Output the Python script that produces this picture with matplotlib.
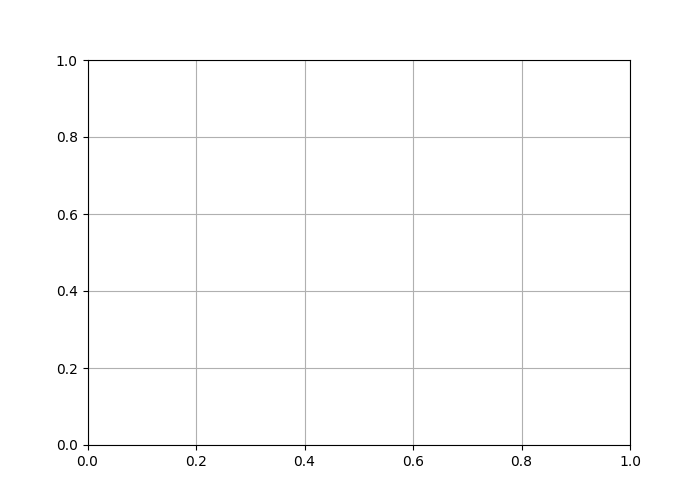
import matplotlib
matplotlib.use("Agg")
import matplotlib.pyplot as plt

# The reference shows an empty axes: no series, only the default limits and a grid
x_values = []
y_values = []

fig, ax = plt.subplots(figsize=(7, 5), dpi=100)
ax.plot(x_values, y_values)
ax.set_xlim(0, 1)
ax.set_ylim(0, 1)
ax.grid(True)
fig.savefig("out.png")
